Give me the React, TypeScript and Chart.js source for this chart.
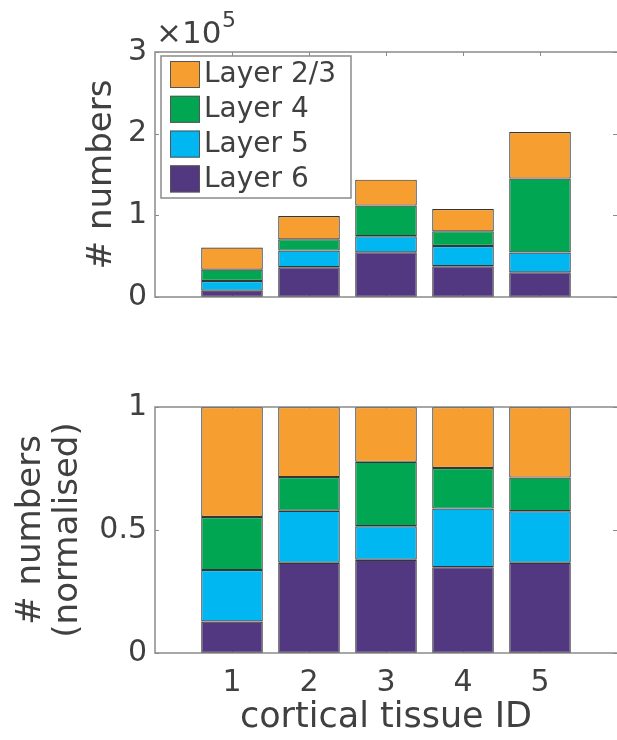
import React, { useEffect, useRef } from 'react';
import { Chart, registerables } from 'chart.js';
Chart.register(...registerables);

const categories = [1, 2, 3, 4, 5];
const layerNames = ['Layer 6', 'Layer 5', 'Layer 4', 'Layer 2/3'];
const layerColors = ['#523880', '#00B7F1', '#00A651', '#F69E30'];
const countL6 = [7800, 36400, 54700, 37600, 30200];
const countL5 = [11800, 20400, 19600, 24800, 24200];
const countL4 = [13900, 13800, 37600, 18000, 90600];
const countL23 = [27000, 28600, 31800, 27400, 57000];
const normL6 = [0.128, 0.367, 0.379, 0.349, 0.367];
const normL5 = [0.209, 0.211, 0.136, 0.238, 0.209];
const normL4 = [0.216, 0.137, 0.262, 0.165, 0.137];
const normL23 = [0.447, 0.285, 0.223, 0.248, 0.287];
const countTicks = [0, 100000, 200000, 300000];
const normTicks = [0, 0.5, 1];
const xTickLabels = ['1', '2', '3', '4', '5'];

const FONT = "'DejaVu Sans', sans-serif";
const TEXT = '#404040';
const AXIS = '#8a8a8a';

function makeDatasets(series: number[][]) {
  return series.map((vals, i) => ({
    label: layerNames[i],
    data: categories.map((c, j) => ({ x: c, y: vals[j] })),
    backgroundColor: layerColors[i],
    borderColor: '#363636',
    borderWidth: 1.2,
    borderSkipped: false as any,
    inflateAmount: 0,
    categoryPercentage: 1,
    barPercentage: 0.8,
  }));
}

function framePlugin(yTicks: number[], showLegend: boolean, showExp: boolean) {
  return {
    id: 'frame',
    beforeDatasetsDraw(chart: any) {
      const { ctx, chartArea: a } = chart;
      const xs = chart.scales.x;
      const ys = chart.scales.y;
      ctx.save();
      ctx.strokeStyle = AXIS;
      ctx.lineWidth = 1;
      ctx.beginPath();
      categories.forEach((c) => {
        const px = Math.round(xs.getPixelForValue(c)) + 0.5;
        ctx.moveTo(px, a.top);
        ctx.lineTo(px, a.top + 4);
        ctx.moveTo(px, a.bottom);
        ctx.lineTo(px, a.bottom - 4);
      });
      yTicks.forEach((v) => {
        const py = Math.round(ys.getPixelForValue(v)) + 0.5;
        ctx.moveTo(a.left, py);
        ctx.lineTo(a.left + 4, py);
        ctx.moveTo(a.right, py);
        ctx.lineTo(a.right - 4, py);
      });
      ctx.stroke();
      ctx.restore();
    },
    afterDatasetsDraw(chart: any) {
      const { ctx, chartArea: a } = chart;
      ctx.save();
      ctx.strokeStyle = AXIS;
      ctx.lineWidth = 1.5;
      ctx.beginPath();
      ctx.moveTo(a.right + 2, a.top);
      ctx.lineTo(a.left, a.top);
      ctx.lineTo(a.left, a.bottom);
      ctx.lineTo(a.right + 2, a.bottom);
      ctx.stroke();
      ctx.restore();
    },
    afterDraw(chart: any) {
      const { ctx, chartArea: a } = chart;
      ctx.save();
      if (showLegend) {
        const bx = a.left + 6;
        const by = a.top + 4;
        const bw = 190;
        const bh = 142;
        ctx.fillStyle = '#ffffff';
        ctx.fillRect(bx, by, bw, bh);
        ctx.strokeStyle = AXIS;
        ctx.lineWidth = 1.5;
        ctx.strokeRect(bx, by, bw, bh);
        const ds = chart.data.datasets.slice().reverse();
        ds.forEach((d: any, i: number) => {
          const sy = by + 5 + i * 34.8;
          ctx.fillStyle = d.backgroundColor;
          ctx.fillRect(bx + 9, sy, 30, 27);
          ctx.strokeStyle = '#555';
          ctx.lineWidth = 1;
          ctx.strokeRect(bx + 9.5, sy + 0.5, 29, 26);
          ctx.fillStyle = TEXT;
          ctx.font = `28px ${FONT}`;
          ctx.textBaseline = 'middle';
          ctx.textAlign = 'left';
          ctx.fillText(d.label, bx + 43, sy + 14);
        });
      }
      if (showExp) {
        ctx.fillStyle = TEXT;
        ctx.textBaseline = 'alphabetic';
        ctx.textAlign = 'left';
        ctx.font = `31px ${FONT}`;
        ctx.fillText('\u00d710', a.left + 1, 42.5);
        ctx.font = `22px ${FONT}`;
        ctx.fillText('5', a.left + 67, 27);
      }
      ctx.restore();
    },
  };
}

function TopChart() {
  const ref = useRef<HTMLCanvasElement>(null);
  useEffect(() => {
    const chart = new Chart(ref.current as HTMLCanvasElement, {
      type: 'bar',
      data: { datasets: makeDatasets([countL6, countL5, countL4, countL23]) as any },
      options: {
        animation: false,
        responsive: false,
        layout: { padding: { top: 52, right: -2, bottom: 43, left: 0 } },
        plugins: { legend: { display: false }, tooltip: { enabled: false } },
        scales: {
          x: {
            type: 'linear',
            stacked: true,
            offset: false,
            min: 0,
            max: 6,
            display: false,
          },
          y: {
            stacked: true,
            min: 0,
            max: 300000,
            afterFit: (s: any) => { s.width = 155; },
            afterBuildTicks: (s: any) => { s.ticks = countTicks.map((v) => ({ value: v })); },
            grid: { display: false, drawTicks: false },
            border: { display: false },
            ticks: {
              padding: 8,
              color: TEXT,
              font: { family: FONT, size: 30 },
              callback: (v: any) => String(Number(v) / 100000),
            },
            title: {
              display: true,
              text: '# numbers',
              color: TEXT,
              font: { family: FONT, size: 34, lineHeight: 1.1 },
              padding: { top: 83, bottom: 0 },
            },
          },
        },
      },
      plugins: [framePlugin(countTicks, true, true)],
    });
    return () => chart.destroy();
  }, []);
  return <canvas ref={ref} width={617} height={340} style={{ position: 'absolute', left: 0, top: 0 }} />;
}

function BottomChart() {
  const ref = useRef<HTMLCanvasElement>(null);
  useEffect(() => {
    const chart = new Chart(ref.current as HTMLCanvasElement, {
      type: 'bar',
      data: { datasets: makeDatasets([normL6, normL5, normL4, normL23]) as any },
      options: {
        animation: false,
        responsive: false,
        layout: { padding: { top: 67, right: -2, bottom: 0, left: 0 } },
        plugins: { legend: { display: false }, tooltip: { enabled: false } },
        scales: {
          x: {
            type: 'linear',
            stacked: true,
            offset: false,
            min: 0,
            max: 6,
            afterFit: (s: any) => { s.height = 87; },
            afterBuildTicks: (s: any) => { s.ticks = categories.map((v) => ({ value: v })); },
            grid: { display: false, drawTicks: false },
            border: { display: false },
            ticks: {
              autoSkip: false,
              maxRotation: 0,
              padding: 12,
              color: TEXT,
              font: { family: FONT, size: 30 },
              callback: (v: any) => xTickLabels[categories.indexOf(Number(v))] ?? '',
            },
            title: {
              display: true,
              text: 'cortical tissue ID',
              color: TEXT,
              font: { family: FONT, size: 35, lineHeight: 1.1 },
              padding: { top: 0, bottom: 3 },
            },
          },
          y: {
            stacked: true,
            min: 0,
            max: 1,
            afterFit: (s: any) => { s.width = 155; },
            afterBuildTicks: (s: any) => { s.ticks = normTicks.map((v) => ({ value: v })); },
            grid: { display: false, drawTicks: false },
            border: { display: false },
            ticks: {
              padding: 8,
              color: TEXT,
              font: { family: FONT, size: 30 },
              callback: (v: any) => String(v),
            },
            title: {
              display: true,
              text: ['# numbers', '(normalised)'],
              color: TEXT,
              font: { family: FONT, size: 34, lineHeight: 1.1 },
              padding: { top: 12, bottom: 0 },
            },
          },
        },
      },
      plugins: [framePlugin(normTicks, false, false)],
    });
    return () => chart.destroy();
  }, []);
  return <canvas ref={ref} width={617} height={400} style={{ position: 'absolute', left: 0, top: 340 }} />;
}

export default function App() {
  return (
    <div style={{ position: 'absolute', left: 0, top: 0, width: 617, height: 740, background: '#fff' }}>
      <TopChart />
      <BottomChart />
    </div>
  );
}
